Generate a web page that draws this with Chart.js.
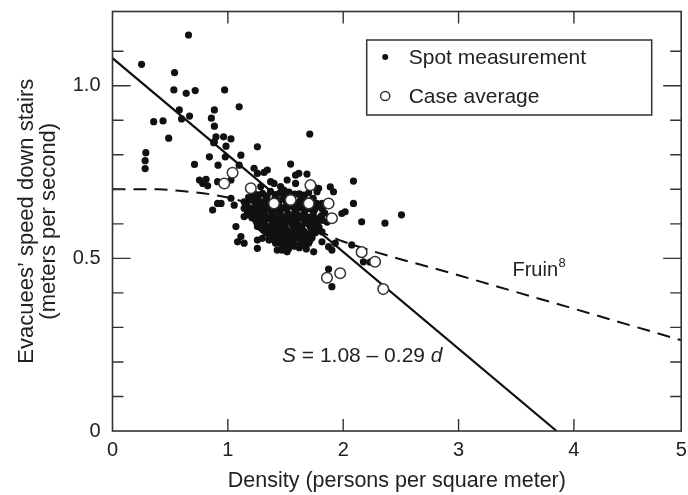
<!DOCTYPE html>
<html><head><meta charset="utf-8">
<script src="https://cdn.jsdelivr.net/npm/chart.js@4/dist/chart.umd.min.js"></script>
<style>html,body{margin:0;padding:0;background:#fff}#wrap{width:688px;height:495px;position:relative}</style>
</head><body><div id="wrap"><canvas id="c" width="688" height="495"></canvas></div>
<script>
// ---------- data ----------
const spotDensity = [
 0.659,0.252,0.538,0.532,0.639,0.717,0.972,0.579,0.599,0.668,0.357,0.438,0.883,0.857,0.883,1.098,0.487,0.897,0.963,1.027,
 0.877,0.984,0.289,0.283,0.283,0.840,0.915,0.978,0.711,0.754,0.811,0.782,0.825,0.911,1.027,
 1.113,1.098,1.256,1.544,1.227,1.256,1.314,1.342,1.587,0.911,0.868,1.055,1.141,1.141,1.141,1.213,1.242,1.285,1.400,1.371,
 1.457,1.285,1.486,1.587,1.514,1.027,0.883,1.686,2.089,0.941,
 1.615,1.744,1.787,1.773,1.888,1.916,2.089,1.630,1.816,1.643,1.816,1.988,2.017,2.160,2.362,2.505,1.710,
 1.070,1.256,1.385,1.113,1.084,1.141,1.256,1.299,1.256,1.357,1.414,1.428,1.471,1.514,1.544,1.572,1.587,1.500,
 1.744,1.816,1.873,1.902,1.931,1.816,1.730,2.074,1.873,1.902,2.175,2.233,
 1.22,1.30,1.37,1.45,1.53,1.62,1.70,
 1.18,1.26,1.33,1.41,1.49,1.56,1.66,1.74,
 1.16,1.23,1.29,1.36,1.44,1.51,1.59,1.68,1.77,
 1.19,1.27,1.33,1.40,1.47,1.55,1.62,1.71,1.79,
 1.17,1.24,1.31,1.38,1.45,1.52,1.58,1.66,1.74,1.84,
 1.21,1.28,1.35,1.42,1.49,1.56,1.63,1.70,1.78,
 1.25,1.32,1.39,1.46,1.53,1.60,1.68,1.76,1.86,
 1.29,1.36,1.43,1.50,1.57,1.64,1.72,1.79,
 1.33,1.40,1.47,1.54,1.61,1.68,1.76,
 1.37,1.44,1.52,1.59,1.66,1.73,
 1.46,1.55,1.63,1.70,
 1.53,1.62,1.68,
 1.26,1.34,1.41,1.49,1.58,1.66,
 1.20,1.27,1.33,1.40,1.48,1.55,1.63,1.72,
 1.16,1.26,1.31,1.37,1.44,1.51,1.58,1.65,1.74,
 1.21,1.29,1.36,1.43,1.51,1.59,1.67,1.75,1.82,
 1.18,1.25,1.32,1.39,1.46,1.53,1.60,1.67,1.74,1.81,
 1.24,1.31,1.38,1.45,1.52,1.59,1.66,1.73,1.82,
 1.28,1.35,1.42,1.49,1.56,1.64,1.71,1.78,
 1.31,1.38,1.45,1.52,1.59,1.66,1.73,
 1.36,1.43,1.50,1.57,1.64,1.71,
 1.41,1.49,1.57,1.64,1.71,
 1.50,1.58,1.66
];
const spotSpeed = [
 1.147,1.062,1.038,0.988,0.978,0.986,0.988,0.930,0.904,0.912,0.896,0.898,0.930,0.906,0.883,0.939,0.848,0.852,0.852,0.846,
 0.835,0.825,0.806,0.783,0.760,0.794,0.770,0.794,0.772,0.727,0.729,0.717,0.710,0.722,0.727,
 0.799,0.770,0.823,0.773,0.761,0.746,0.749,0.756,0.741,0.659,0.640,0.654,0.664,0.645,0.621,0.679,0.650,0.626,0.717,0.722,
 0.708,0.708,0.698,0.717,0.727,0.674,0.838,0.744,0.724,0.659,
 0.746,0.707,0.703,0.693,0.707,0.693,0.659,0.664,0.659,0.621,0.611,0.630,0.635,0.606,0.602,0.626,0.860,
 0.592,0.592,0.585,0.563,0.548,0.544,0.553,0.558,0.529,0.553,0.544,0.524,0.524,0.519,0.539,0.548,0.568,0.558,
 0.519,0.548,0.534,0.524,0.544,0.577,0.582,0.539,0.469,0.418,0.490,0.489,
 0.692,0.688,0.694,0.689,0.692,0.687,0.690,
 0.677,0.673,0.679,0.675,0.678,0.672,0.677,0.674,
 0.661,0.664,0.659,0.663,0.660,0.665,0.661,0.663,0.659,
 0.646,0.650,0.645,0.649,0.646,0.651,0.647,0.644,0.649,
 0.634,0.631,0.635,0.632,0.636,0.630,0.634,0.632,0.635,0.631,
 0.617,0.620,0.616,0.619,0.615,0.620,0.617,0.619,0.615,
 0.604,0.601,0.605,0.602,0.606,0.600,0.604,0.601,0.605,
 0.587,0.590,0.586,0.589,0.585,0.590,0.587,0.590,
 0.574,0.571,0.575,0.572,0.576,0.571,0.574,
 0.557,0.560,0.556,0.559,0.556,0.560,
 0.542,0.545,0.541,0.544,
 0.529,0.531,0.527,
 0.684,0.681,0.685,0.682,0.686,0.683,
 0.670,0.667,0.671,0.668,0.672,0.666,0.670,0.668,
 0.655,0.657,0.653,0.656,0.654,0.658,0.653,0.656,0.652,
 0.641,0.638,0.642,0.639,0.643,0.638,0.641,0.639,0.642,
 0.626,0.623,0.627,0.624,0.626,0.622,0.627,0.624,0.626,0.623,
 0.611,0.608,0.612,0.609,0.611,0.607,0.612,0.609,0.611,
 0.596,0.593,0.597,0.594,0.597,0.593,0.596,0.594,
 0.581,0.578,0.582,0.579,0.581,0.578,0.582,
 0.566,0.563,0.567,0.564,0.566,0.563,
 0.551,0.548,0.552,0.549,0.551,
 0.537,0.535,0.538
];
const caseDensity = [0.969,1.041,1.199,1.400,1.544,1.716,1.701,1.873,1.902,2.160,2.276,1.974,1.859,2.347];
const caseSpeed   = [0.717,0.748,0.703,0.659,0.669,0.712,0.659,0.659,0.616,0.518,0.490,0.457,0.444,0.411];
const fitDensity  = [0, 3.85];
const fitSpeed    = [1.08, 0];
const fruinDensity = [0, 0.4, 0.6, 0.8, 1.0, 1.2, 1.4, 1.6, 1.8, 2.0, 3.0, 4.0, 4.93];
const fruinSpeed   = [0.700, 0.700, 0.695, 0.688, 0.676, 0.658, 0.634, 0.606, 0.577, 0.549, 0.451, 0.354, 0.263];
const xTickLabels = ['0', '1', '2', '3', '4', '5'];
const yTickLabels = {0: '0', 5: '0.5', 10: '1.0'};   // keyed by tenths
const seriesLabels = ['Spot measurement', 'Case average', 'S = 1.08 \u2013 0.29 d', 'Fruin'];

// ---------- chart ----------
const X_MAX = 4.93, Y_MAX = 1.215;
const FONT = "'Liberation Sans', Arial, Helvetica, sans-serif";
const INK = '#222';
Chart.defaults.font.family = FONT;
Chart.defaults.color = INK;

const pts = (xs, ys) => xs.map((x, i) => ({x, y: ys[i]}));

const frameAndTicks = {
  id: 'frameAndTicks',
  afterDatasetsDraw(chart) {
    const {ctx, chartArea: a, scales: {x, y}} = chart;
    ctx.save();
    ctx.strokeStyle = '#333';
    ctx.lineWidth = 1.6;
    ctx.strokeRect(a.left, a.top, a.right - a.left, a.bottom - a.top);
    ctx.lineWidth = 1.4;
    ctx.beginPath();
    x.ticks.forEach(t => {
      if (t.value <= 0.01 || t.value >= X_MAX - 0.01) return;
      const px = x.getPixelForValue(t.value);
      ctx.moveTo(px, a.bottom); ctx.lineTo(px, a.bottom - 12);
      ctx.moveTo(px, a.top); ctx.lineTo(px, a.top + 12);
    });
    y.ticks.forEach(t => {
      if (t.value <= 0.01 || t.value > 1.15) return;
      const tenth = Math.round(t.value * 10);
      const len = (tenth % 5 === 0) ? 18 : 11;
      const py = y.getPixelForValue(t.value);
      ctx.moveTo(a.left, py); ctx.lineTo(a.left + len, py);
      ctx.moveTo(a.right, py); ctx.lineTo(a.right - len, py);
    });
    ctx.stroke();
    ctx.restore();
  }
};

const textNotes = {
  id: 'textNotes',
  afterDatasetsDraw(chart) {
    const {ctx, scales: {x, y}} = chart;
    ctx.save();
    ctx.fillStyle = INK;
    ctx.textBaseline = 'middle';
    ctx.textAlign = 'left';
    let px = x.getPixelForValue(1.469), py = y.getPixelForValue(0.217);
    const parts = [['S', 'italic'], [' = 1.08 \u2013 0.29 ', 'normal'], ['d', 'italic']];
    parts.forEach(([s, st]) => {
      ctx.font = st + ' 21px ' + FONT;
      ctx.fillText(s, px, py);
      px += ctx.measureText(s).width;
    });
    px = x.getPixelForValue(3.467); py = y.getPixelForValue(0.466);
    ctx.font = '20px ' + FONT;
    ctx.fillText('Fruin', px, py);
    px += ctx.measureText('Fruin').width + 0.5;
    ctx.font = '13px ' + FONT;
    ctx.fillText('8', px, py - 7);
    ctx.restore();
  }
};

const boxLegend = {
  id: 'boxLegend',
  afterDraw(chart) {
    const {ctx, chartArea: a} = chart;
    const items = chart.data.datasets.filter(d => d.inLegend)
      .sort((p, q) => seriesLabels.indexOf(p.label) - seriesLabels.indexOf(q.label));
    const w = 285, h = 75;
    const l = a.right - 29.5 - w, t = a.top + 28.5;
    ctx.save();
    ctx.strokeStyle = '#333';
    ctx.lineWidth = 1.5;
    ctx.strokeRect(l, t, w, h);
    ctx.font = '21px ' + FONT;
    ctx.textBaseline = 'middle';
    const rowsY = [t + 17, t + 56];
    items.forEach((d, i) => {
      const cy = rowsY[i], cx = l + 18.5;
      ctx.beginPath();
      ctx.arc(cx, cy, d.legendRadius, 0, Math.PI * 2);
      ctx.fillStyle = d.pointBackgroundColor;
      ctx.fill();
      if (d.legendStroke) {
        ctx.lineWidth = 1.5; ctx.strokeStyle = d.pointBorderColor; ctx.stroke();
      }
      ctx.fillStyle = INK;
      ctx.fillText(d.label, l + 42, cy + 1);
    });
    ctx.restore();
  }
};

new Chart(document.getElementById('c'), {
  type: 'scatter',
  data: {
    datasets: [
      {
        label: seriesLabels[1], data: pts(caseDensity, caseSpeed), order: 0, inLegend: true,
        pointRadius: 5.3, pointBackgroundColor: '#fff', pointBorderColor: '#333', pointBorderWidth: 1.5,
        legendRadius: 4.6, legendStroke: true
      },
      {
        label: seriesLabels[0], data: pts(spotDensity, spotSpeed), order: 1, inLegend: true,
        pointRadius: 3.6, pointBackgroundColor: '#111', pointBorderWidth: 0,
        legendRadius: 3, legendStroke: false
      },
      {
        label: seriesLabels[2], data: pts(fitDensity, fitSpeed), order: 2, showLine: true,
        pointRadius: 0, borderColor: '#111', borderWidth: 2.2
      },
      {
        label: seriesLabels[3], data: pts(fruinDensity, fruinSpeed), order: 3, showLine: true,
        pointRadius: 0, borderColor: '#111', borderWidth: 2, borderDash: [13, 8],
        cubicInterpolationMode: 'monotone'
      }
    ]
  },
  options: {
    responsive: false, animation: false, devicePixelRatio: 1,
    layout: {padding: {left: 0, right: 3.5, top: 11.5, bottom: 0}},
    plugins: {legend: {display: false}, tooltip: {enabled: false}},
    scales: {
      x: {
        type: 'linear', min: 0, max: X_MAX,
        grid: {display: false, drawTicks: false}, border: {display: false},
        ticks: {
          stepSize: 1, autoSkip: false, maxRotation: 0, padding: 7,
          font: {size: 20}, color: INK,
          callback: v => (v >= X_MAX - 0.01 ? xTickLabels[5] : (xTickLabels[Math.round(v)] ?? ''))
        },
        title: {display: true, text: 'Density (persons per square meter)', font: {size: 21.5}, color: INK,
                padding: {top: 0, bottom: 1}},
        afterFit(s) { s.height = 64; s.paddingLeft = 0; s.paddingRight = 0; }
      },
      y: {
        type: 'linear', min: 0, max: Y_MAX,
        grid: {display: false, drawTicks: false}, border: {display: false},
        ticks: {
          stepSize: 0.1, autoSkip: false, padding: 12, font: {size: 20}, color: INK,
          callback: v => yTickLabels[Math.round(v * 10)] ?? ''
        },
        title: {display: true, text: ['Evacuees\u2019 speed down stairs', '(meters per second)'],
                font: {size: 22, lineHeight: 1.0}, color: INK, padding: {top: 16, bottom: 0}},
        afterFit(s) { s.width = 112.5; s.paddingTop = 0; s.paddingBottom = 0; }
      }
    }
  },
  plugins: [frameAndTicks, textNotes, boxLegend]
});
</script>
</body></html>
